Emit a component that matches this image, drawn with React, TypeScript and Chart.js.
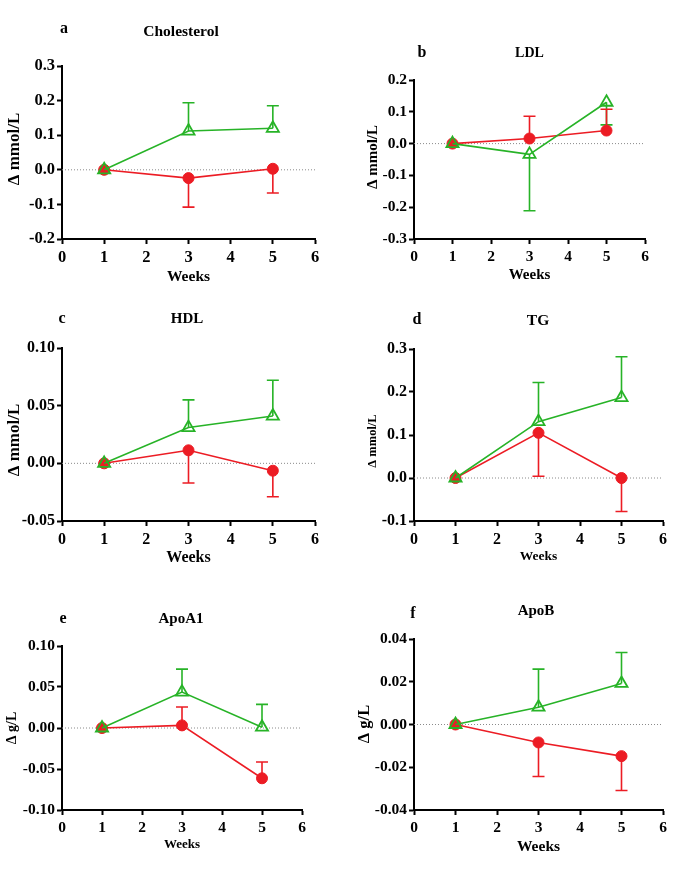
import React, { useEffect, useRef } from "react";
import { Chart, registerables } from "chart.js";

Chart.register(...registerables);

// ---------- data ----------
const weeks = [1, 3, 5];

const cholRed = [0, -0.024, 0.003];
const cholRedErr = [null, -0.108, -0.067];
const cholGreen = [0, 0.112, 0.12];
const cholGreenErr = [null, 0.194, 0.185];

const ldlRed = [0, 0.016, 0.041];
const ldlRedErr = [null, 0.086, 0.108];
const ldlGreen = [0, -0.034, 0.13];
const ldlGreenErr = [null, -0.211, 0.059];

const hdlRed = [0, 0.0113, -0.0064];
const hdlRedErr = [null, -0.017, -0.029];
const hdlGreen = [0, 0.031, 0.041];
const hdlGreenErr = [null, 0.055, 0.072];

const tgRed = [0, 0.105, 0.0];
const tgRedErr = [null, 0.004, -0.078];
const tgGreen = [0, 0.131, 0.187];
const tgGreenErr = [null, 0.222, 0.282];

const apoa1Red = [0, 0.0032, -0.0613];
const apoa1RedErr = [null, 0.0256, -0.0414];
const apoa1Green = [0, 0.0438, 0.001];
const apoa1GreenErr = [null, 0.0718, 0.0288];

const apobRed = [0, -0.0084, -0.0148];
const apobRedErr = [null, -0.0243, -0.0309];
const apobGreen = [0, 0.0081, 0.0192];
const apobGreenErr = [null, 0.0259, 0.0337];

const xTickMin = 0;
const xTickMax = 6;
const xTitle = "Weeks";

const RED = "#ec1c24";
const GREEN = "#27b327";
const FONT = '"Liberation Serif", "Times New Roman", serif';

type Cfg = {
  box: number[];
  area: number[];
  yMin: number;
  yMax: number;
  yStep: number;
  dec: number;
  red: number[];
  redErr: (number | null)[];
  green: number[];
  greenErr: (number | null)[];
  letter: string;
  letterPos: number[];
  title: string;
  titlePos: number[];
  titleSize: number;
  yTitle: string;
  yTitlePos: number[];
  yTitleSize: number;
  xTitleY: number;
  xTitleSize: number;
  tickSize: number;
};

const panels: Cfg[] = [
  {
    box: [0, 0, 342, 290], area: [62, 66, 315, 239],
    yMin: -0.2, yMax: 0.3, yStep: 0.1, dec: 1,
    red: cholRed, redErr: cholRedErr, green: cholGreen, greenErr: cholGreenErr,
    letter: "a", letterPos: [64, 29], title: "Cholesterol", titlePos: [181, 32], titleSize: 15.5,
    yTitle: "Δ mmol/L", yTitlePos: [15, 149], yTitleSize: 17, xTitleY: 277, xTitleSize: 15.5, tickSize: 16.5,
  },
  {
    box: [342, 0, 343, 290], area: [414, 80, 645, 239],
    yMin: -0.3, yMax: 0.2, yStep: 0.1, dec: 1,
    red: ldlRed, redErr: ldlRedErr, green: ldlGreen, greenErr: ldlGreenErr,
    letter: "b", letterPos: [422, 53], title: "LDL", titlePos: [529.5, 53], titleSize: 14,
    yTitle: "Δ mmol/L", yTitlePos: [373, 157], yTitleSize: 15, xTitleY: 275, xTitleSize: 15, tickSize: 15.5,
  },
  {
    box: [0, 290, 342, 290], area: [62, 348, 315, 521],
    yMin: -0.05, yMax: 0.1, yStep: 0.05, dec: 2,
    red: hdlRed, redErr: hdlRedErr, green: hdlGreen, greenErr: hdlGreenErr,
    letter: "c", letterPos: [62, 319], title: "HDL", titlePos: [187, 319], titleSize: 15,
    yTitle: "Δ mmol/L", yTitlePos: [15, 440], yTitleSize: 17, xTitleY: 558, xTitleSize: 16, tickSize: 16,
  },
  {
    box: [342, 290, 343, 290], area: [414, 349, 663, 521],
    yMin: -0.1, yMax: 0.3, yStep: 0.1, dec: 1,
    red: tgRed, redErr: tgRedErr, green: tgGreen, greenErr: tgGreenErr,
    letter: "d", letterPos: [417, 320], title: "TG", titlePos: [538, 321], titleSize: 15.5,
    yTitle: "Δ mmol/L", yTitlePos: [373, 441], yTitleSize: 12.5, xTitleY: 557, xTitleSize: 13.5, tickSize: 16,
  },
  {
    box: [0, 580, 342, 289], area: [62, 646, 302, 810],
    yMin: -0.1, yMax: 0.1, yStep: 0.05, dec: 2,
    red: apoa1Red, redErr: apoa1RedErr, green: apoa1Green, greenErr: apoa1GreenErr,
    letter: "e", letterPos: [63, 619], title: "ApoA1", titlePos: [181, 619], titleSize: 15,
    yTitle: "Δ g/L", yTitlePos: [12, 728], yTitleSize: 14, xTitleY: 845, xTitleSize: 13, tickSize: 15.5,
  },
  {
    box: [342, 580, 343, 289], area: [414, 639, 663, 810],
    yMin: -0.04, yMax: 0.04, yStep: 0.02, dec: 2,
    red: apobRed, redErr: apobRedErr, green: apobGreen, greenErr: apobGreenErr,
    letter: "f", letterPos: [413, 614], title: "ApoB", titlePos: [536, 611], titleSize: 15,
    yTitle: "Δ g/L", yTitlePos: [365, 724], yTitleSize: 16.5, xTitleY: 847, xTitleSize: 15.5, tickSize: 15.5,
  },
];

const Y_W = 40;
const X_H = 30;

function Panel({ cfg }: { cfg: Cfg }) {
  const ref = useRef<HTMLCanvasElement | null>(null);
  useEffect(() => {
    const canvas = ref.current;
    if (!canvas) return;
    const [bx, by, bw, bh] = cfg.box;
    const [L, T, R, B] = cfg.area;

    const decor = {
      id: "decor",
      beforeDatasetsDraw(chart: any) {
        const { ctx, chartArea, scales } = chart;
        const y0 = scales.y.getPixelForValue(0);
        ctx.save();
        ctx.strokeStyle = "#8a8a8a";
        ctx.lineWidth = 1;
        ctx.setLineDash([1, 2]);
        ctx.beginPath();
        ctx.moveTo(chartArea.left, y0);
        ctx.lineTo(chartArea.right, y0);
        ctx.stroke();
        ctx.setLineDash([]);
        // error bars
        chart.data.datasets.forEach((ds: any) => {
          const ends = ds.errEnds as (number | null)[];
          ctx.strokeStyle = ds.borderColor;
          ctx.lineWidth = 1.6;
          ds.data.forEach((p: any, i: number) => {
            const e = ends[i];
            if (e === null || e === undefined) return;
            const px = scales.x.getPixelForValue(p.x);
            const py = scales.y.getPixelForValue(p.y);
            const pe = scales.y.getPixelForValue(e);
            ctx.beginPath();
            ctx.moveTo(px, py);
            ctx.lineTo(px, pe);
            ctx.moveTo(px - 6, pe);
            ctx.lineTo(px + 6, pe);
            ctx.stroke();
          });
        });
        ctx.restore();
      },
      afterDraw(chart: any) {
        const { ctx, chartArea } = chart;
        ctx.save();
        ctx.fillStyle = "#000";
        ctx.textAlign = "center";
        ctx.textBaseline = "middle";
        ctx.font = `bold 16px ${FONT}`;
        ctx.fillText(cfg.letter, cfg.letterPos[0] - bx, cfg.letterPos[1] - by);
        ctx.font = `bold ${cfg.titleSize}px ${FONT}`;
        ctx.fillText(cfg.title, cfg.titlePos[0] - bx, cfg.titlePos[1] - by);
        ctx.font = `bold ${cfg.xTitleSize}px ${FONT}`;
        ctx.fillText(xTitle, (chartArea.left + chartArea.right) / 2, cfg.xTitleY - by);
        ctx.translate(cfg.yTitlePos[0] - bx, cfg.yTitlePos[1] - by);
        ctx.rotate(-Math.PI / 2);
        ctx.font = `bold ${cfg.yTitleSize}px ${FONT}`;
        ctx.fillText(cfg.yTitle, 0, 0);
        ctx.restore();
      },
    };

    const fmt = (v: number) => {
      const n = Math.abs(v) < 1e-9 ? 0 : v;
      return n.toFixed(cfg.dec);
    };

    const chart = new Chart(canvas, {
      type: "line",
      data: {
        datasets: [
          {
            label: "green",
            data: weeks.map((w, i) => ({ x: w, y: cfg.green[i] })),
            errEnds: cfg.greenErr,
            borderColor: GREEN,
            backgroundColor: "rgba(0,0,0,0)",
            borderWidth: 1.6,
            pointStyle: "triangle",
            pointRadius: 7,
            pointBorderWidth: 1.8,
            pointBorderColor: GREEN,
            pointBackgroundColor: "rgba(0,0,0,0)",
            tension: 0,
          } as any,
          {
            label: "red",
            data: weeks.map((w, i) => ({ x: w, y: cfg.red[i] })),
            errEnds: cfg.redErr,
            borderColor: RED,
            backgroundColor: RED,
            borderWidth: 1.6,
            pointStyle: "circle",
            pointRadius: 5.5,
            pointBorderWidth: 1,
            pointBorderColor: RED,
            pointBackgroundColor: RED,
            tension: 0,
          } as any,
        ],
      },
      options: {
        animation: false,
        responsive: false,
        devicePixelRatio: 1,
        events: [],
        layout: {
          autoPadding: false,
          padding: {
            left: L - bx - Y_W,
            top: T - by,
            right: bx + bw - R,
            bottom: by + bh - B - X_H,
          },
        },
        plugins: {
          legend: { display: false },
          tooltip: { enabled: false },
          title: { display: false },
        },
        scales: {
          x: {
            type: "linear",
            min: xTickMin,
            max: xTickMax,
            ticks: {
              stepSize: 1,
              color: "#000",
              padding: 4,
              font: { family: FONT, size: cfg.tickSize, weight: "bold" },
            },
            grid: {
              display: true,
              drawOnChartArea: false,
              drawTicks: true,
              tickLength: 5,
              tickWidth: 2,
              tickColor: "#000",
              color: "#000",
            },
            border: { display: true, color: "#000", width: 2 },
            afterFit: (s: any) => {
              s.height = X_H;
            },
          },
          y: {
            type: "linear",
            min: cfg.yMin,
            max: cfg.yMax,
            ticks: {
              stepSize: cfg.yStep,
              color: "#000",
              padding: 2,
              font: { family: FONT, size: cfg.tickSize, weight: "bold" },
              callback: (v: any) => fmt(Number(v)),
            },
            grid: {
              display: true,
              drawOnChartArea: false,
              drawTicks: true,
              tickLength: 5,
              tickWidth: 2,
              tickColor: "#000",
              color: "#000",
            },
            border: { display: true, color: "#000", width: 2 },
            afterFit: (s: any) => {
              s.width = Y_W;
            },
          },
        },
      } as any,
      plugins: [decor],
    });
    return () => chart.destroy();
  }, [cfg]);

  const [bx, by, bw, bh] = cfg.box;
  return (
    <canvas
      ref={ref}
      width={bw}
      height={bh}
      style={{ position: "absolute", left: bx, top: by, width: bw, height: bh }}
    />
  );
}

export default function App() {
  return (
    <div
      style={{
        position: "absolute",
        left: 0,
        top: 0,
        width: 685,
        height: 869,
        background: "#fff",
        overflow: "hidden",
      }}
    >
      {panels.map((p) => (
        <Panel key={p.letter} cfg={p} />
      ))}
    </div>
  );
}
